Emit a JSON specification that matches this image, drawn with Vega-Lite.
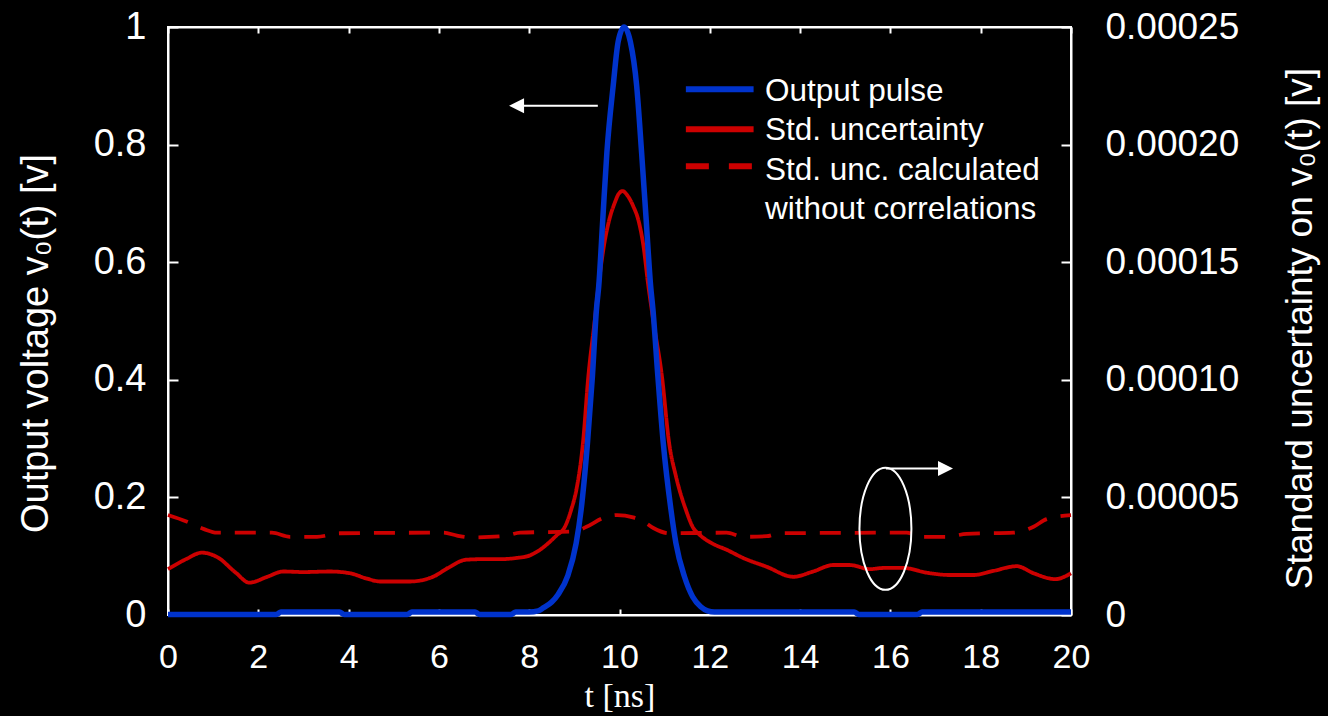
{
  "$schema": "https://vega.github.io/schema/vega-lite/v6.json",
  "width": 903,
  "height": 588,
  "autosize": {"type": "none"},
  "padding": {"left": 168, "top": 27, "right": 257, "bottom": 101},
  "background": "black",
  "config": {
    "view": {"stroke": "white", "strokeWidth": 2},
    "axis": {
      "grid": false,
      "domainColor": "white",
      "domainWidth": 2,
      "tickColor": "white",
      "tickWidth": 2,
      "labelColor": "white",
      "titleColor": "white",
      "labelFont": "Liberation Sans",
      "titleFont": "Liberation Sans",
      "titleFontWeight": "normal",
      "labelFlush": false
    }
  },
  "datasets": {
    "pulse": [
      {"t": 0, "v": 0.001}, {"t": 1, "v": 0.001}, {"t": 2.4, "v": 0.001}, {"t": 2.5, "v": 0.005},
      {"t": 3.8, "v": 0.005}, {"t": 3.9, "v": 0.001}, {"t": 5.3, "v": 0.001}, {"t": 5.4, "v": 0.005},
      {"t": 6.8, "v": 0.005}, {"t": 6.9, "v": 0.001}, {"t": 7.6, "v": 0.001}, {"t": 7.7, "v": 0.005},
      {"t": 8.0, "v": 0.005}, {"t": 8.2, "v": 0.007}, {"t": 8.31, "v": 0.012}, {"t": 8.5, "v": 0.022},
      {"t": 8.64, "v": 0.035}, {"t": 8.86, "v": 0.068}, {"t": 9.04, "v": 0.122}, {"t": 9.15, "v": 0.179},
      {"t": 9.29, "v": 0.292}, {"t": 9.4, "v": 0.406}, {"t": 9.49, "v": 0.52}, {"t": 9.54, "v": 0.559},
      {"t": 9.63, "v": 0.673}, {"t": 9.72, "v": 0.786}, {"t": 9.86, "v": 0.9}, {"t": 9.97, "v": 0.975},
      {"t": 10.1, "v": 1.0}, {"t": 10.24, "v": 0.975}, {"t": 10.38, "v": 0.9}, {"t": 10.49, "v": 0.786},
      {"t": 10.59, "v": 0.673}, {"t": 10.69, "v": 0.559}, {"t": 10.74, "v": 0.52}, {"t": 10.85, "v": 0.406},
      {"t": 10.97, "v": 0.292}, {"t": 11.14, "v": 0.179}, {"t": 11.25, "v": 0.122}, {"t": 11.44, "v": 0.065},
      {"t": 11.62, "v": 0.031}, {"t": 11.8, "v": 0.014}, {"t": 11.95, "v": 0.007}, {"t": 12.1, "v": 0.005},
      {"t": 15.2, "v": 0.005}, {"t": 15.3, "v": 0.001}, {"t": 16.6, "v": 0.001}, {"t": 16.7, "v": 0.005},
      {"t": 20, "v": 0.005}
    ],
    "unc": [
      {"series": "Std. uncertainty", "t": 0, "u": 0.0000195},
      {"series": "Std. uncertainty", "t": 0.4, "u": 0.00002375},
      {"series": "Std. uncertainty", "t": 0.75, "u": 0.0000265},
      {"series": "Std. uncertainty", "t": 1.1, "u": 0.0000245},
      {"series": "Std. uncertainty", "t": 1.5, "u": 0.000018},
      {"series": "Std. uncertainty", "t": 1.8, "u": 0.00001375},
      {"series": "Std. uncertainty", "t": 2.2, "u": 0.00001625},
      {"series": "Std. uncertainty", "t": 2.55, "u": 0.0000185},
      {"series": "Std. uncertainty", "t": 3.0, "u": 0.00001825},
      {"series": "Std. uncertainty", "t": 3.59, "u": 0.0000185},
      {"series": "Std. uncertainty", "t": 4.03, "u": 0.00001775},
      {"series": "Std. uncertainty", "t": 4.4, "u": 0.0000155},
      {"series": "Std. uncertainty", "t": 4.7, "u": 0.00001425},
      {"series": "Std. uncertainty", "t": 5.36, "u": 0.00001425},
      {"series": "Std. uncertainty", "t": 5.87, "u": 0.00001625},
      {"series": "Std. uncertainty", "t": 6.2, "u": 0.00002},
      {"series": "Std. uncertainty", "t": 6.6, "u": 0.0000235},
      {"series": "Std. uncertainty", "t": 7.0, "u": 0.00002375},
      {"series": "Std. uncertainty", "t": 7.35, "u": 0.00002375},
      {"series": "Std. uncertainty", "t": 7.72, "u": 0.00002425},
      {"series": "Std. uncertainty", "t": 8.0, "u": 0.00002525},
      {"series": "Std. uncertainty", "t": 8.24, "u": 0.00002775},
      {"series": "Std. uncertainty", "t": 8.42, "u": 0.0000305},
      {"series": "Std. uncertainty", "t": 8.6, "u": 0.00003375},
      {"series": "Std. uncertainty", "t": 8.79, "u": 0.0000375},
      {"series": "Std. uncertainty", "t": 8.93, "u": 0.00004475},
      {"series": "Std. uncertainty", "t": 9.05, "u": 0.00005375},
      {"series": "Std. uncertainty", "t": 9.19, "u": 0.000073},
      {"series": "Std. uncertainty", "t": 9.31, "u": 0.0001015},
      {"series": "Std. uncertainty", "t": 9.45, "u": 0.000125},
      {"series": "Std. uncertainty", "t": 9.55, "u": 0.0001425},
      {"series": "Std. uncertainty", "t": 9.66, "u": 0.0001575},
      {"series": "Std. uncertainty", "t": 9.78, "u": 0.0001685},
      {"series": "Std. uncertainty", "t": 9.9, "u": 0.0001755},
      {"series": "Std. uncertainty", "t": 9.98, "u": 0.0001790},
      {"series": "Std. uncertainty", "t": 10.07, "u": 0.00018025},
      {"series": "Std. uncertainty", "t": 10.17, "u": 0.0001785},
      {"series": "Std. uncertainty", "t": 10.3, "u": 0.0001740},
      {"series": "Std. uncertainty", "t": 10.43, "u": 0.0001670},
      {"series": "Std. uncertainty", "t": 10.53, "u": 0.0001570},
      {"series": "Std. uncertainty", "t": 10.63, "u": 0.00014125},
      {"series": "Std. uncertainty", "t": 10.75, "u": 0.000125},
      {"series": "Std. uncertainty", "t": 10.94, "u": 0.0001015},
      {"series": "Std. uncertainty", "t": 11.1, "u": 0.000073},
      {"series": "Std. uncertainty", "t": 11.25, "u": 0.000059},
      {"series": "Std. uncertainty", "t": 11.47, "u": 0.00004475},
      {"series": "Std. uncertainty", "t": 11.62, "u": 0.0000375},
      {"series": "Std. uncertainty", "t": 11.78, "u": 0.000034},
      {"series": "Std. uncertainty", "t": 12.0, "u": 0.000031},
      {"series": "Std. uncertainty", "t": 12.4, "u": 0.0000275},
      {"series": "Std. uncertainty", "t": 12.74, "u": 0.00002425},
      {"series": "Std. uncertainty", "t": 13.26, "u": 0.0000205},
      {"series": "Std. uncertainty", "t": 13.85, "u": 0.00001625},
      {"series": "Std. uncertainty", "t": 14.29, "u": 0.0000185},
      {"series": "Std. uncertainty", "t": 14.73, "u": 0.00002125},
      {"series": "Std. uncertainty", "t": 15.1, "u": 0.00002125},
      {"series": "Std. uncertainty", "t": 15.55, "u": 0.0000195},
      {"series": "Std. uncertainty", "t": 15.84, "u": 0.00002},
      {"series": "Std. uncertainty", "t": 16.29, "u": 0.00002},
      {"series": "Std. uncertainty", "t": 16.8, "u": 0.000018},
      {"series": "Std. uncertainty", "t": 17.32, "u": 0.000017},
      {"series": "Std. uncertainty", "t": 17.84, "u": 0.000017},
      {"series": "Std. uncertainty", "t": 18.28, "u": 0.00001875},
      {"series": "Std. uncertainty", "t": 18.8, "u": 0.00002075},
      {"series": "Std. uncertainty", "t": 19.17, "u": 0.00001775},
      {"series": "Std. uncertainty", "t": 19.65, "u": 0.00001525},
      {"series": "Std. uncertainty", "t": 20, "u": 0.00001775},
      {"series": "Std. unc. calculated without correlations", "t": 0, "u": 0.0000425},
      {"series": "Std. unc. calculated without correlations", "t": 0.41, "u": 0.00003975},
      {"series": "Std. unc. calculated without correlations", "t": 0.8, "u": 0.0000365},
      {"series": "Std. unc. calculated without correlations", "t": 1.08, "u": 0.000035},
      {"series": "Std. unc. calculated without correlations", "t": 2.3, "u": 0.000035},
      {"series": "Std. unc. calculated without correlations", "t": 2.7, "u": 0.00003325},
      {"series": "Std. unc. calculated without correlations", "t": 3.3, "u": 0.00003325},
      {"series": "Std. unc. calculated without correlations", "t": 3.8, "u": 0.00003475},
      {"series": "Std. unc. calculated without correlations", "t": 6.1, "u": 0.000035},
      {"series": "Std. unc. calculated without correlations", "t": 6.4, "u": 0.00003375},
      {"series": "Std. unc. calculated without correlations", "t": 6.69, "u": 0.000033},
      {"series": "Std. unc. calculated without correlations", "t": 7.43, "u": 0.0000335},
      {"series": "Std. unc. calculated without correlations", "t": 7.8, "u": 0.000035},
      {"series": "Std. unc. calculated without correlations", "t": 9.0, "u": 0.0000355},
      {"series": "Std. unc. calculated without correlations", "t": 9.27, "u": 0.0000375},
      {"series": "Std. unc. calculated without correlations", "t": 9.64, "u": 0.00004125},
      {"series": "Std. unc. calculated without correlations", "t": 9.95, "u": 0.0000425},
      {"series": "Std. unc. calculated without correlations", "t": 10.3, "u": 0.0000415},
      {"series": "Std. unc. calculated without correlations", "t": 10.55, "u": 0.0000395},
      {"series": "Std. unc. calculated without correlations", "t": 10.75, "u": 0.000037},
      {"series": "Std. unc. calculated without correlations", "t": 11.1, "u": 0.00003475},
      {"series": "Std. unc. calculated without correlations", "t": 12.37, "u": 0.000035},
      {"series": "Std. unc. calculated without correlations", "t": 12.74, "u": 0.00003325},
      {"series": "Std. unc. calculated without correlations", "t": 13.26, "u": 0.0000335},
      {"series": "Std. unc. calculated without correlations", "t": 13.55, "u": 0.00003475},
      {"series": "Std. unc. calculated without correlations", "t": 16.36, "u": 0.000035},
      {"series": "Std. unc. calculated without correlations", "t": 16.66, "u": 0.00003325},
      {"series": "Std. unc. calculated without correlations", "t": 17.25, "u": 0.00003325},
      {"series": "Std. unc. calculated without correlations", "t": 17.69, "u": 0.0000345},
      {"series": "Std. unc. calculated without correlations", "t": 18.72, "u": 0.000035},
      {"series": "Std. unc. calculated without correlations", "t": 19.17, "u": 0.0000375},
      {"series": "Std. unc. calculated without correlations", "t": 19.46, "u": 0.00004075},
      {"series": "Std. unc. calculated without correlations", "t": 20, "u": 0.0000425}
    ]
  },
  "layer": [
    {
      "data": {"name": "unc"},
      "mark": {"type": "line", "color": "#cc0000", "strokeWidth": 3.8, "interpolate": "monotone", "clip": false},
      "encoding": {
        "x": {
          "field": "t", "type": "quantitative",
          "scale": {"domain": [0, 20], "nice": false},
          "axis": {"orient": "top", "values": [0, 2, 4, 6, 8, 10, 12, 14, 16, 18, 20], "labels": false, "title": null, "tickSize": -6}
        },
        "y": {
          "field": "u", "type": "quantitative",
          "scale": {"domain": [0, 0.00025], "nice": false},
          "axis": {
            "orient": "right",
            "values": [0, 0.00005, 0.0001, 0.00015, 0.0002, 0.00025],
            "tickSize": -10,
            "labelPadding": 44,
            "labelFontSize": 37,
            "labelExpr": "datum.value == 0 ? '0' : format(datum.value, '.5f')",
            "title": "Standard uncertainty on v₀(t) [v]",
            "titleFontSize": 37,
            "titleAngle": 270,
            "titleBaseline": "top",
            "titlePadding": 44,
            "titleY": 301
          }
        },
        "strokeDash": {
          "field": "series", "type": "nominal",
          "scale": {"domain": ["Std. uncertainty", "Std. unc. calculated without correlations"], "range": [[1, 0], [21, 14]]},
          "legend": null
        }
      }
    },
    {
      "layer": [
        {
          "data": {"name": "pulse"},
          "mark": {"type": "line", "color": "#0033cc", "strokeWidth": 5.5, "interpolate": "monotone", "clip": false},
          "encoding": {
            "x": {
              "field": "t", "type": "quantitative",
              "scale": {"domain": [0, 20], "nice": false},
              "axis": {
                "orient": "bottom",
                "values": [0, 2, 4, 6, 8, 10, 12, 14, 16, 18, 20],
                "tickSize": -6,
                "labelPadding": 31,
                "labelFontSize": 34,
                "title": "t [ns]",
                "titleFont": "Liberation Serif",
                "titleFontSize": 34,
                "titlePadding": 5
              }
            },
            "y": {
              "field": "v", "type": "quantitative",
              "scale": {"domain": [0, 1], "nice": false},
              "axis": {
                "orient": "left",
                "values": [0, 0.2, 0.4, 0.6, 0.8, 1],
                "tickSize": -10,
                "labelPadding": 32,
                "labelFontSize": 38,
                "labelExpr": "format(datum.value, '.1~f')",
                "title": "Output voltage v₀(t) [v]",
                "titleFontSize": 38,
                "titlePadding": 38,
                "titleY": 316
              }
            }
          }
        },
        {
          "data": {"values": [{}]},
          "mark": {"type": "rule", "color": "#0033cc", "strokeWidth": 6},
          "encoding": {"x": {"datum": 11.47}, "x2": {"datum": 12.97}, "y": {"datum": 0.894}}
        },
        {
          "data": {"values": [{}]},
          "mark": {"type": "rule", "color": "#cc0000", "strokeWidth": 6},
          "encoding": {"x": {"datum": 11.47}, "x2": {"datum": 12.97}, "y": {"datum": 0.826}}
        },
        {
          "data": {"values": [{}]},
          "mark": {"type": "rule", "color": "#cc0000", "strokeWidth": 6, "strokeDash": [23, 20]},
          "encoding": {"x": {"datum": 11.47}, "x2": {"datum": 12.97}, "y": {"datum": 0.763}}
        },
        {
          "data": {"values": [{}]},
          "mark": {
            "type": "text",
            "text": ["Output pulse", "Std. uncertainty", "Std. unc. calculated", "without correlations"],
            "align": "left", "baseline": "alphabetic", "lineHeight": 39.5,
            "font": "Liberation Sans", "fontSize": 31.5, "color": "white"
          },
          "encoding": {"x": {"datum": 13.22}, "y": {"datum": 0.8745}}
        },
        {
          "data": {"values": [{}]},
          "mark": {"type": "rule", "color": "white", "strokeWidth": 2},
          "encoding": {"x": {"datum": 7.84}, "x2": {"datum": 9.52}, "y": {"datum": 0.866}}
        },
        {
          "data": {"values": [{}]},
          "mark": {"type": "point", "shape": "M-1,0L1,-1L1,1Z", "size": 225, "filled": true, "color": "white", "opacity": 1},
          "encoding": {"x": {"datum": 7.72}, "y": {"datum": 0.866}}
        },
        {
          "data": {"values": [{}]},
          "mark": {"type": "rule", "color": "white", "strokeWidth": 2},
          "encoding": {"x": {"datum": 15.9}, "x2": {"datum": 17.1}, "y": {"datum": 0.249}}
        },
        {
          "data": {"values": [{}]},
          "mark": {"type": "point", "shape": "M1,0L-1,-1L-1,1Z", "size": 225, "filled": true, "color": "white", "opacity": 1},
          "encoding": {"x": {"datum": 17.22}, "y": {"datum": 0.249}}
        },
        {
          "data": {"values": [{}]},
          "mark": {"type": "point", "shape": "M0,-1A0.426,1,0,1,1,0,1A0.426,1,0,1,1,0,-1Z", "size": 14884, "filled": false, "stroke": "white", "strokeWidth": 2, "opacity": 1},
          "encoding": {"x": {"datum": 15.89}, "y": {"datum": 0.1465}}
        }
      ]
    }
  ],
  "resolve": {"scale": {"y": "independent"}, "axis": {"x": "independent", "y": "independent"}}
}
